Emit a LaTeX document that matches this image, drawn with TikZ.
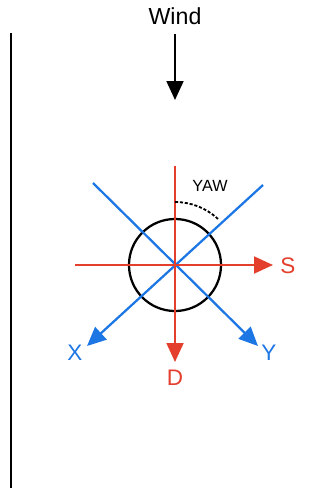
\documentclass[tikz,border=0pt]{standalone}
\usepackage{fontspec}
\setmainfont{Liberation Sans}
\usepackage{xcolor}
\usepackage{tikz}
\usetikzlibrary{arrows.meta,positioning,calc}
\definecolor{axisred}{RGB}{228,62,44}
\definecolor{axisblue}{RGB}{28,118,228}
\tikzstyle{axis} = [line width=1.6pt,-{Triangle[length=13.5pt,width=12pt]}]
\tikzstyle{lbl} = [font=\fontsize{16}{18}\selectfont, inner sep=0pt]

\begin{document}
\begin{tikzpicture}[x=0.025cm, y=-0.025cm]
    \useasboundingbox (0,0) rectangle (332,495);

    % Wall and wind
    \coordinate (walltop) at (11,33);
    \coordinate (wallbot) at (11,488);
    \draw[line width=1.6pt] (walltop) -- (wallbot);
    \node[font=\fontsize{16.5}{20}\selectfont, inner sep=0pt] (wind) at (175,16) {Wind};
    \coordinate (windtip) at (175,100);
    \draw[axis, black] ($(wind.south)+(0,9)$) -- (windtip);

    % Body
    \coordinate (o) at (175,265);
    \node[circle, draw, line width=1.6pt, minimum size=2.3cm] (body) at (o) {};

    % Axes
    \coordinate (dstart) at (175,166);
    \coordinate (dtip) at (175,362);
    \coordinate (sstart) at (75,265);
    \coordinate (stip) at (273,265);
    \coordinate (xstart) at (263,185);
    \coordinate (xtip) at (87,346);
    \coordinate (ystart) at (93,183);
    \coordinate (ytip) at (258,346);
    \draw[axis, axisblue] (xstart) -- (xtip);
    \draw[axis, axisblue] (ystart) -- (ytip);
    \draw[axis, axisred] (sstart) -- (stip);
    \draw[axis, axisred] (dstart) -- (dtip);

    % Labels
    \node[lbl, text=axisred] (s) at (288,266) {S};
    \node[lbl, text=axisred] (d) at (175,378) {D};
    \node[lbl, text=axisblue] (x) at (75,353) {X};
    \node[lbl, text=axisblue] (y) at (269,353) {Y};

    % Yaw angle
    \coordinate (yawstart) at (175,202);
    \draw[dashed, line width=1.3pt, dash pattern=on 2.2pt off 1.3pt] (yawstart) arc[start angle=-90, end angle=-47, radius=63];
    \node[font=\fontsize{11.5}{12}\selectfont, inner sep=0pt] (yaw) at (210,186) {YAW};
\end{tikzpicture}
\end{document}
